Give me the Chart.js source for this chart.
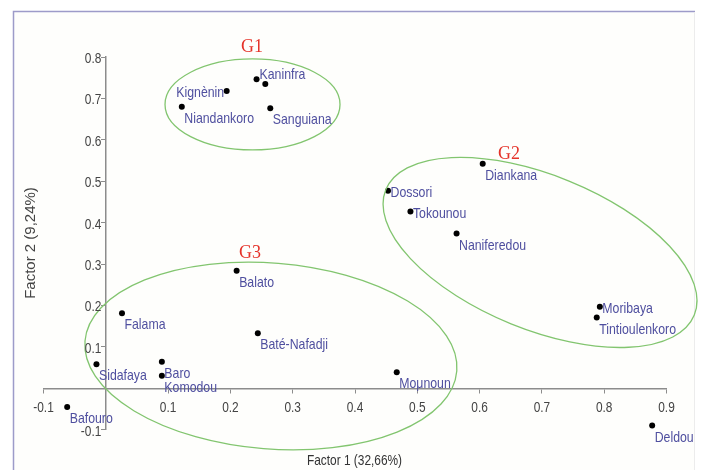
<!DOCTYPE html>
<html>
<head>
<meta charset="utf-8">
<script src="https://cdn.jsdelivr.net/npm/chart.js@4.4.0/dist/chart.umd.min.js"></script>
<style>
  html, body { margin: 0; padding: 0; background: #ffffff; }
  #wrap { width: 701px; height: 470px; position: relative; }
</style>
</head>
<body>
<div id="wrap"><canvas id="c" width="701" height="470"></canvas></div>
<script>
// Site names and their coordinates on the first two factorial axes
const SITES = [
  'Kaninfra', '', 'Kignènin', 'Niandankoro', 'Sanguiana',
  'Diankana', 'Dossori', 'Tokounou', 'Naniferedou', 'Moribaya', 'Tintioulenkoro',
  'Balato', 'Falama', 'Baté-Nafadji', 'Sidafaya', 'Baro', 'Komodou', 'Bafouro', 'Moμnoun',
  'Deldou'
];
const FACTOR1 = [
  0.242, 0.256, 0.194, 0.122, 0.264,
  0.605, 0.453, 0.489, 0.563, 0.793, 0.788,
  0.210, 0.026, 0.244, -0.015, 0.090, 0.090, -0.062, 0.467,
  0.877
];
const FACTOR2 = [
  0.746, 0.735, 0.718, 0.680, 0.676,
  0.542, 0.477, 0.427, 0.374, 0.197, 0.171,
  0.284, 0.181, 0.133, 0.058, 0.064, 0.030, -0.045, 0.039,
  -0.090
];

// Axis titles
const X_TITLE = 'Factor 1 (32,66%)';
const Y_TITLE = 'Factor 2 (9,24%)';

// Group names
const GROUP_NAMES = ['G1', 'G2', 'G3'];

// Enclosing ellipses: centre and caption anchor in data units, semi-axes in px, tilt in degrees
const ENCLOSURES = {
  G1: { cx: 0.2355, cy: 0.6855, a: 87.5, b: 45.5, tilt: 0,    tx: 0.2347, ty: 0.8244 },
  G2: { cx: 0.6970, cy: 0.3280, a: 166.5, b: 77.1, tilt: 22.1, tx: 0.6470, ty: 0.5660 },
  G3: { cx: 0.2650, cy: 0.0780, a: 186.5, b: 93.0, tilt: 4.6,  tx: 0.2315, ty: 0.3254 }
};

// Where each site label sits relative to its dot
const LABEL_SPOT = {
  'Kaninfra':    { dx: 3, dy: -5, align: 'left' },
  'Kignènin':    { dx: -2.5, dy: 2, align: 'right' },
  'Dossori':     { dx: 2.5, dy: 2, align: 'left' },
  'Tokounou':    { dx: 2.5, dy: 2.3, align: 'left' },
  'Moribaya':    { dx: 2.5, dy: 2.5, align: 'left' }
};
const DEFAULT_SPOT = { dx: 2.5, dy: 12, align: 'left' };

const SANS = "'Liberation Sans', Arial, sans-serif";
const LABEL_COLOR = '#4f4f9f';
const AXIS_COLOR = '#8c8c8c';
const TICK_COLOR = '#444444';
const SQUEEZE = 0.82; // condensed look for the sans-serif text

const fmtTick = (v) => (Math.abs(v) < 1e-9 ? '' : Number(v).toFixed(1));

// Draws horizontally condensed text
function narrowText(ctx, text, x, y, align) {
  ctx.save();
  ctx.translate(x, y);
  ctx.scale(SQUEEZE, 1);
  ctx.textAlign = align;
  ctx.fillText(text, 0, 0);
  ctx.restore();
}

const framePlugin = {
  id: 'frame',
  beforeDraw(chart) {
    const ctx = chart.ctx;
    ctx.save();
    ctx.fillStyle = '#ffffff';
    ctx.fillRect(0, 0, chart.width, chart.height);
    ctx.fillStyle = '#fefefc';
    ctx.fillRect(14, 12, 680, chart.height - 12);
    ctx.strokeStyle = '#9d9bc9';
    ctx.lineWidth = 1.5;
    ctx.beginPath();
    ctx.moveTo(13.5, chart.height);
    ctx.lineTo(13.5, 11.5);
    ctx.lineTo(695, 11.5);
    ctx.stroke();
    ctx.strokeStyle = '#ececec';
    ctx.lineWidth = 1;
    ctx.beginPath();
    ctx.moveTo(694.5, 12);
    ctx.lineTo(694.5, chart.height);
    ctx.stroke();
    ctx.restore();
  }
};

// Tick labels for both crossing axes, taken from the scales' own ticks
const tickLabelPlugin = {
  id: 'tickLabels',
  afterDraw(chart) {
    const ctx = chart.ctx;
    const xs = chart.scales.x, ys = chart.scales.y;
    const x0 = xs.getPixelForValue(0), y0 = ys.getPixelForValue(0);
    ctx.save();
    ctx.fillStyle = TICK_COLOR;
    ctx.font = '14.5px ' + SANS;
    ctx.textBaseline = 'middle';
    xs.ticks.forEach((t) => {
      const s = fmtTick(t.value);
      if (s) narrowText(ctx, s, xs.getPixelForValue(t.value), y0 + 20, 'center');
    });
    ys.ticks.forEach((t) => {
      const s = fmtTick(t.value);
      if (s) narrowText(ctx, s, x0 - 4.5, ys.getPixelForValue(t.value) + 2, 'right');
    });
    ctx.restore();
  }
};

const groupPlugin = {
  id: 'groups',
  afterDatasetsDraw(chart) {
    const ctx = chart.ctx;
    const xs = chart.scales.x, ys = chart.scales.y;
    ctx.save();
    GROUP_NAMES.forEach((g) => {
      const e = ENCLOSURES[g];
      const px = xs.getPixelForValue(e.cx), py = ys.getPixelForValue(e.cy);
      ctx.strokeStyle = '#82c56f';
      ctx.lineWidth = 1.3;
      ctx.beginPath();
      ctx.ellipse(px, py, e.a, e.b, e.tilt * Math.PI / 180, 0, Math.PI * 2);
      ctx.stroke();
      ctx.fillStyle = '#e5332a';
      ctx.font = "18px 'Liberation Serif', 'DejaVu Serif', serif";
      ctx.textAlign = 'center';
      ctx.textBaseline = 'middle';
      ctx.fillText(g, xs.getPixelForValue(e.tx), ys.getPixelForValue(e.ty));
    });
    ctx.restore();
  }
};

const labelPlugin = {
  id: 'siteLabels',
  afterDraw(chart) {
    const ctx = chart.ctx;
    const meta = chart.getDatasetMeta(0);
    ctx.save();
    ctx.fillStyle = LABEL_COLOR;
    ctx.font = '15px ' + SANS;
    ctx.textBaseline = 'middle';
    meta.data.forEach((pt, i) => {
      const name = SITES[i];
      if (!name) return;
      const s = LABEL_SPOT[name] || DEFAULT_SPOT;
      narrowText(ctx, name, pt.x + s.dx, pt.y + s.dy, s.align);
    });
    // axis titles
    ctx.fillStyle = '#333333';
    ctx.font = '14.5px ' + SANS;
    narrowText(ctx, X_TITLE, 354.5, 461, 'center');
    ctx.save();
    ctx.translate(31, 243);
    ctx.rotate(-Math.PI / 2);
    ctx.font = '15px ' + SANS;
    ctx.fillStyle = '#444444';
    ctx.textAlign = 'center';
    ctx.fillText(Y_TITLE, 0, 0);
    ctx.restore();
    ctx.restore();
  }
};

const axisCommon = {
  type: 'linear',
  grid: { display: true, drawOnChartArea: false, drawTicks: true, tickLength: 4, color: AXIS_COLOR, lineWidth: 1 },
  border: { display: true, color: AXIS_COLOR, width: 1.5 }
};

new Chart(document.getElementById('c'), {
  type: 'scatter',
  data: {
    datasets: [{
      data: SITES.map((s, i) => ({ x: FACTOR1[i], y: FACTOR2[i] })),
      pointRadius: 3,
      pointHoverRadius: 3,
      backgroundColor: '#000000',
      borderWidth: 0,
      clip: false
    }]
  },
  options: {
    responsive: false,
    animation: false,
    events: [],
    layout: { padding: { left: 43.5, right: 34.5, top: 57, bottom: 40.3 } },
    plugins: { legend: { display: false }, tooltip: { enabled: false } },
    scales: {
      x: Object.assign({}, axisCommon, {
        position: { y: 0 },
        min: -0.1, max: 0.9,
        ticks: { stepSize: 0.1, display: false }
      }),
      y: Object.assign({}, axisCommon, {
        position: { x: 0 },
        min: -0.1, max: 0.8,
        ticks: { stepSize: 0.1, display: false }
      })
    }
  },
  plugins: [framePlugin, groupPlugin, labelPlugin, tickLabelPlugin]
});
</script>
</body>
</html>
